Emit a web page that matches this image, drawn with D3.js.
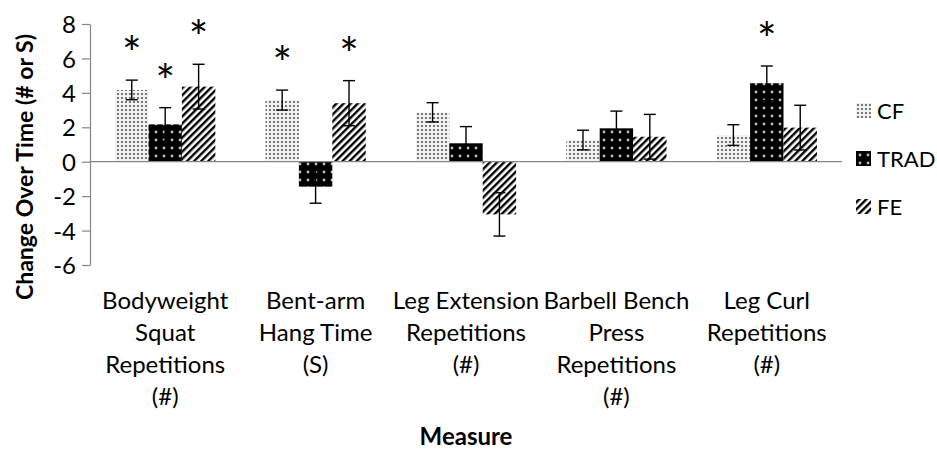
<!DOCTYPE html>
<html>
<head>
<meta charset="utf-8">
<script src="https://cdnjs.cloudflare.com/ajax/libs/d3/7.8.5/d3.min.js"></script>
<style>
    body { margin: 0; background: #fff; }
    svg text { font-family: Lato, "Open Sans", sans-serif; fill: #000; }
</style>
</head>
<body>
<svg id="chart" width="937" height="452" xmlns="http://www.w3.org/2000/svg"></svg>
<script>
// data
const categories = ['Bodyweight Squat Repetitions (#)', 'Bent-arm Hang Time (S)', 'Leg Extension Repetitions (#)', 'Barbell Bench Press Repetitions (#)', 'Leg Curl Repetitions (#)'];
const categoryLines = [
    ['Bodyweight', 'Squat', 'Repetitions', '(#)'],
    ['Bent-arm', 'Hang Time', '(S)'],
    ['Leg Extension', 'Repetitions', '(#)'],
    ['Barbell Bench', 'Press', 'Repetitions', '(#)'],
    ['Leg Curl', 'Repetitions', '(#)']
];
const seriesNames = ['CF', 'TRAD', 'FE'];
const cfValues = [4.17, 3.58, 2.87, 1.26, 1.55];
const cfErrors = [0.57, 0.58, 0.56, 0.57, 0.6];
const tradValues = [2.17, -1.45, 1.07, 1.94, 4.56];
const tradErrors = [0.97, 0.96, 0.97, 1.0, 1.0];
const feValues = [4.36, 3.4, -3.06, 1.45, 1.98];
const feErrors = [1.3, 1.31, 1.26, 1.3, 1.3];
const cfSig = [true, true, false, false, false];
const tradSig = [true, false, false, false, true];
const feSig = [true, true, false, false, false];
const yTicks = [-6, -4, -2, 0, 2, 4, 6, 8];

const
    svg = d3.select('#chart'),
    axisColor = '#868686',
    plot = { left: 90, right: 842, top: 24, bottom: 265 };

const valuesBySeries = [cfValues, tradValues, feValues];
const errorsBySeries = [cfErrors, tradErrors, feErrors];
const sigBySeries = [cfSig, tradSig, feSig];

const rows = [];
categories.forEach((c, i) => {
    seriesNames.forEach((s, j) => {
        rows.push({ cat: c, series: s, value: valuesBySeries[j][i], err: errorsBySeries[j][i], sig: sigBySeries[j][i] });
    });
});

// scales
const x0 = d3.scaleBand().domain(categories).range([plot.left, plot.right]).paddingInner(1 / 3).paddingOuter(1 / 6);
const x1 = d3.scaleBand().domain(seriesNames).range([0, x0.bandwidth()]);
const y = d3.scaleLinear().domain([-6, 8]).range([plot.bottom, plot.top]);

// patterns
const defs = svg.append('defs');

const pCF = defs.append('pattern').attr('id', 'pat-CF').attr('patternUnits', 'userSpaceOnUse').attr('width', 4).attr('height', 4);
pCF.append('rect').attr('width', 4).attr('height', 4).attr('fill', '#f2f2f2');
pCF.append('circle').attr('cx', 2).attr('cy', 2).attr('r', 1.1).attr('fill', '#5a5a5a');

const pTRAD = defs.append('pattern').attr('id', 'pat-TRAD').attr('patternUnits', 'userSpaceOnUse').attr('width', 8).attr('height', 8);
pTRAD.append('rect').attr('width', 8).attr('height', 8).attr('fill', '#000');
pTRAD.append('circle').attr('cx', 4).attr('cy', 4).attr('r', 1.4).attr('fill', '#bdbdbd');

const pFE = defs.append('pattern').attr('id', 'pat-FE').attr('patternUnits', 'userSpaceOnUse')
    .attr('width', 5).attr('height', 5).attr('patternTransform', 'rotate(45)');
pFE.append('rect').attr('width', 5).attr('height', 5).attr('fill', '#fff');
pFE.append('rect').attr('width', 2.4).attr('height', 5).attr('fill', '#000');

// y axis
const yAxis = svg.append('g')
    .attr('transform', `translate(${plot.left},0)`)
    .call(d3.axisLeft(y).tickValues(yTicks).tickFormat(d => String(d)).tickSize(8).tickSizeOuter(0).tickPadding(6));
yAxis.select('.domain').attr('stroke', axisColor).attr('stroke-width', 1.2);
yAxis.selectAll('.tick line').attr('stroke', axisColor).attr('stroke-width', 1.2);
yAxis.selectAll('.tick text').style('font-size', '24px').attr('dy', '0.36em');

// bars
svg.append('g').selectAll('rect')
    .data(rows)
    .join('rect')
    .attr('x', d => x0(d.cat) + x1(d.series))
    .attr('width', x1.bandwidth())
    .attr('y', d => y(Math.max(0, d.value)))
    .attr('height', d => Math.abs(y(d.value) - y(0)))
    .attr('fill', d => `url(#pat-${d.series})`);

// zero line
svg.append('line')
    .attr('x1', plot.left).attr('x2', plot.right)
    .attr('y1', y(0)).attr('y2', y(0))
    .attr('stroke', axisColor).attr('stroke-width', 1.2);

// error bars
const capHalf = 6;
const eb = svg.append('g').attr('stroke', '#000').attr('stroke-width', 1.4);
rows.forEach(d => {
    const cx = x0(d.cat) + x1(d.series) + x1.bandwidth() / 2;
    const top = y(d.value + d.err), bot = y(d.value - d.err);
    eb.append('line').attr('x1', cx).attr('x2', cx).attr('y1', top).attr('y2', bot);
    eb.append('line').attr('x1', cx - capHalf).attr('x2', cx + capHalf).attr('y1', top).attr('y2', top);
    eb.append('line').attr('x1', cx - capHalf).attr('x2', cx + capHalf).attr('y1', bot).attr('y2', bot);
});

// significance stars (glyph centre ~36px above the error bar)
svg.append('g').selectAll('text')
    .data(rows.filter(d => d.sig))
    .join('text')
    .attr('x', d => x0(d.cat) + x1(d.series) + x1.bandwidth() / 2)
    .attr('y', d => y(d.value + d.err) - 36 + 26)
    .attr('text-anchor', 'middle')
    .style('font-size', '46px')
    .text('*');

// category labels
const xAxis = svg.append('g')
    .attr('transform', `translate(0,${plot.bottom})`)
    .call(d3.axisBottom(x0).tickSize(0));
xAxis.select('.domain').remove();
xAxis.selectAll('.tick text')
    .attr('y', null).attr('dy', null)
    .style('font-size', '24px')
    .text(null)
    .each(function (d, i) {
        d3.select(this).selectAll('tspan')
            .data(categoryLines[i])
            .join('tspan')
            .attr('x', 0)
            .attr('y', (t, k) => 44 + k * 32)
            .text(t => t);
    });

// axis titles
svg.append('text')
    .attr('transform', 'translate(33,167) rotate(-90)')
    .attr('text-anchor', 'middle')
    .style('font-size', '23px').style('font-weight', 'bold')
    .text('Change Over Time (# or S)');

svg.append('text')
    .attr('x', (plot.left + plot.right) / 2)
    .attr('y', 445)
    .attr('text-anchor', 'middle')
    .style('font-size', '24px').style('font-weight', 'bold')
    .text('Measure');

// legend
const legend = svg.append('g').selectAll('g')
    .data(seriesNames)
    .join('g')
    .attr('transform', (d, i) => `translate(856,${119 + i * 48})`);
legend.append('rect')
    .attr('y', -16).attr('width', 15).attr('height', 15)
    .attr('fill', d => `url(#pat-${d})`);
legend.append('text')
    .attr('x', 21)
    .style('font-size', '22px')
    .text(d => d);
</script>
</body>
</html>
